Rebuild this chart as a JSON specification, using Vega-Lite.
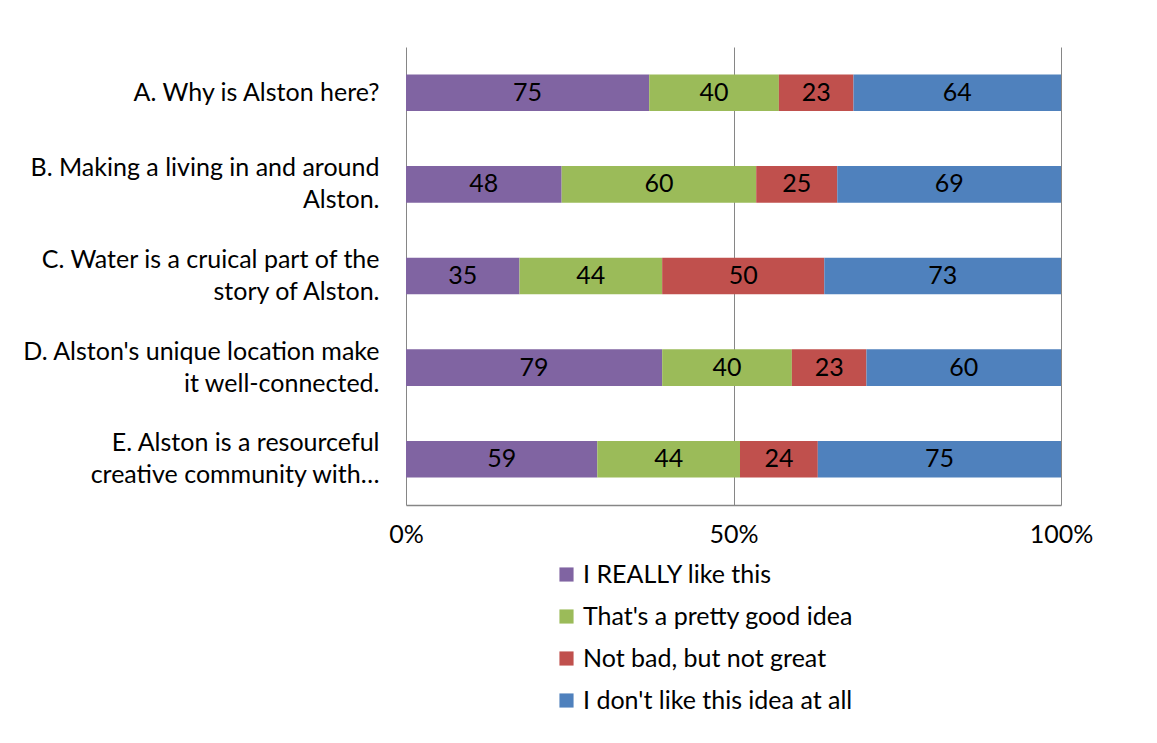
{
  "$schema": "https://vega.github.io/schema/vega-lite/v6.json",
  "width": 655,
  "height": 458,
  "padding": {"left": 8, "top": 47, "right": 10, "bottom": 10},
  "background": "white",
  "config": {
    "view": {"stroke": null},
    "font": "Lato",
    "axis": {"labelFont": "Lato", "labelColor": "black", "labelFontSize": 25},
    "legend": {"labelFont": "Lato", "labelColor": "black", "labelFontSize": 25}
  },
  "data": {
    "values": [
      {"question": "A. Why is Alston here?", "response": "I REALLY like this", "count": 75},
      {"question": "A. Why is Alston here?", "response": "That's a pretty good idea", "count": 40},
      {"question": "A. Why is Alston here?", "response": "Not bad, but not great", "count": 23},
      {"question": "A. Why is Alston here?", "response": "I don't like this idea at all", "count": 64},
      {"question": "B. Making a living in and around Alston.", "response": "I REALLY like this", "count": 48},
      {"question": "B. Making a living in and around Alston.", "response": "That's a pretty good idea", "count": 60},
      {"question": "B. Making a living in and around Alston.", "response": "Not bad, but not great", "count": 25},
      {"question": "B. Making a living in and around Alston.", "response": "I don't like this idea at all", "count": 69},
      {"question": "C. Water is a cruical part of the story of Alston.", "response": "I REALLY like this", "count": 35},
      {"question": "C. Water is a cruical part of the story of Alston.", "response": "That's a pretty good idea", "count": 44},
      {"question": "C. Water is a cruical part of the story of Alston.", "response": "Not bad, but not great", "count": 50},
      {"question": "C. Water is a cruical part of the story of Alston.", "response": "I don't like this idea at all", "count": 73},
      {"question": "D. Alston's unique location make it well-connected.", "response": "I REALLY like this", "count": 79},
      {"question": "D. Alston's unique location make it well-connected.", "response": "That's a pretty good idea", "count": 40},
      {"question": "D. Alston's unique location make it well-connected.", "response": "Not bad, but not great", "count": 23},
      {"question": "D. Alston's unique location make it well-connected.", "response": "I don't like this idea at all", "count": 60},
      {"question": "E. Alston is a resourceful creative community with…", "response": "I REALLY like this", "count": 59},
      {"question": "E. Alston is a resourceful creative community with…", "response": "That's a pretty good idea", "count": 44},
      {"question": "E. Alston is a resourceful creative community with…", "response": "Not bad, but not great", "count": 24},
      {"question": "E. Alston is a resourceful creative community with…", "response": "I don't like this idea at all", "count": 75}
    ]
  },
  "transform": [
    {"calculate": "indexof(['I REALLY like this', \"That's a pretty good idea\", 'Not bad, but not great', \"I don't like this idea at all\"], datum.response)", "as": "rank"},
    {"stack": "count", "groupby": ["question"], "sort": [{"field": "rank", "order": "ascending"}], "offset": "normalize", "as": ["x0", "x1"]},
    {"calculate": "(datum.x0 + datum.x1) / 2", "as": "xm"}
  ],
  "encoding": {
    "y": {
      "field": "question",
      "type": "nominal",
      "sort": null,
      "scale": {"paddingInner": 0.6, "paddingOuter": 0.3},
      "axis": {
        "title": null,
        "domain": false,
        "ticks": false,
        "labelPadding": 27,
        "minExtent": 398,
        "maxExtent": 398,
        "labelLimit": 400,
        "labelLineHeight": 32,
        "labelAlign": "right",
        "labelOffset": {"condition": {"test": "indexof(datum.label, 'A.') == 0", "value": 0}, "value": -16},
        "labelExpr": "datum.label == 'B. Making a living in and around Alston.' ? ['B. Making a living in and around', 'Alston.'] : datum.label == 'C. Water is a cruical part of the story of Alston.' ? ['C. Water is a cruical part of the', 'story of Alston.'] : datum.label == \"D. Alston's unique location make it well-connected.\" ? [\"D. Alston's unique location make\", 'it well-connected.'] : datum.label == 'E. Alston is a resourceful creative community with…' ? ['E. Alston is a resourceful', 'creative community with…'] : datum.label"
      }
    }
  },
  "layer": [
    {
      "mark": {"type": "bar"},
      "encoding": {
        "x": {
          "field": "x0",
          "type": "quantitative",
          "scale": {"domain": [0, 1], "nice": false},
          "axis": {
            "title": null,
            "values": [0, 0.5, 1],
            "format": ".0%",
            "grid": true,
            "gridColor": "#868686",
            "gridWidth": 1,
            "domainColor": "#868686",
            "domainWidth": 1.5,
            "ticks": false,
            "labelPadding": 17,
            "labelFlush": false
          }
        },
        "x2": {"field": "x1"},
        "color": {
          "field": "response",
          "type": "nominal",
          "scale": {
            "domain": ["I REALLY like this", "That's a pretty good idea", "Not bad, but not great", "I don't like this idea at all"],
            "range": ["#8064A2", "#9BBB59", "#C0504D", "#4F81BD"]
          },
          "legend": {
            "title": null,
            "orient": "none",
            "legendX": 148,
            "legendY": 515,
            "direction": "vertical",
            "symbolType": "square",
            "symbolSize": 200,
            "symbolStrokeWidth": 0,
            "symbolOpacity": 1,
            "rowPadding": 16,
            "labelOffset": 4,
            "labelLimit": 400
          }
        }
      }
    },
    {
      "mark": {"type": "text", "fontSize": 25, "font": "Lato", "color": "black", "baseline": "middle", "align": "center"},
      "encoding": {
        "x": {"field": "xm", "type": "quantitative"},
        "text": {"field": "count", "type": "quantitative"}
      }
    }
  ]
}
